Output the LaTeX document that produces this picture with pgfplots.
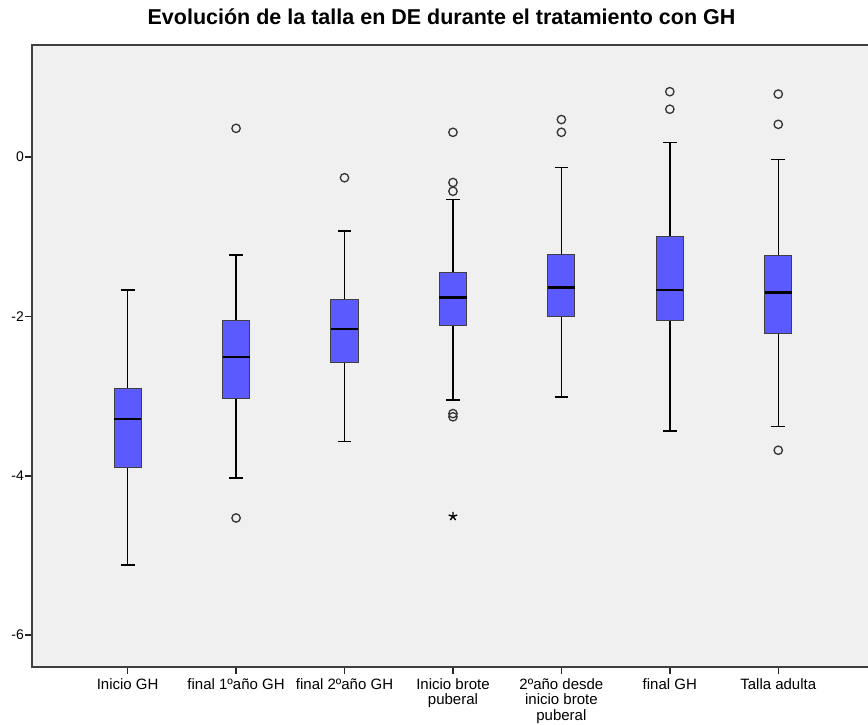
\documentclass[border=0pt]{standalone}
\usepackage{pgfplots}
\pgfplotsset{compat=1.18}
\usepgfplotslibrary{statistics}
\usepackage{fontspec}
\setmainfont{Liberation Sans}
\definecolor{boxfill}{RGB}{90,90,255}
\definecolor{bg}{RGB}{240,240,240}
\begin{document}
\begin{tikzpicture}
\path[use as bounding box] (-32pt,-58pt) rectangle (836pt,667pt);
\begin{axis}[
  at={(0,0)}, anchor=south west,
  width=838pt, height=622pt, scale only axis,
  xmin=0.118, xmax=7.846, ymin=-6.40, ymax=1.406,
  axis background/.style={fill=bg},
  axis line style={draw=black!75, line width=1.3pt},
  xtick={1,2,3,4,5,6,7},
  xticklabels={Inicio GH, final 1ºaño GH, final 2ºaño GH, {Inicio brote\\puberal}, {2ºaño desde\\inicio brote\\puberal}, final GH, Talla adulta},
  ytick={-6,-4,-2,0},
  yticklabels={-6,-4,-2,0},
  tick align=outside, xtick pos=bottom, ytick pos=left,
  major tick length=7pt,
  tick style={black!85, line width=1.5pt},
  xticklabel style={align=center, font=\fontsize{15}{15.5}\selectfont, inner sep=0pt, yshift=-4pt},
  yticklabel style={font=\fontsize{14}{16}\selectfont, inner sep=1pt},
  title={Evolución de la talla en DE durante el tratamiento con GH},
  title style={font=\bfseries\fontsize{21.5}{24}\selectfont, at={(0.4887,1)}, anchor=base, yshift=14pt, inner sep=0pt},
  boxplot/draw direction=y,
  boxplot/box extend=0.25,
  boxplot/whisker extend=0.127,
  boxplot/every box/.style={fill=boxfill, draw=black!75, line width=1pt},
  boxplot/every median/.style={black, line width=2.6pt},
  boxplot/every whisker/.style={black, line width=1.5pt},
  every axis plot/.append style={mark=o, mark size=4.2pt, mark options={draw=black!80, line width=1.3pt}},
]
\addplot[boxplot prepared={draw position=1, lower whisker=-5.12, lower quartile=-3.90, median=-3.29, upper quartile=-2.91, upper whisker=-1.67}] coordinates {};
\addplot[boxplot prepared={draw position=2, lower whisker=-4.03, lower quartile=-3.03, median=-2.51, upper quartile=-2.05, upper whisker=-1.23}] table[row sep=\\, y index=0] {y\\ 0.36\\ -4.53\\};
\addplot[boxplot prepared={draw position=3, lower whisker=-3.57, lower quartile=-2.58, median=-2.16, upper quartile=-1.79, upper whisker=-0.93}] table[row sep=\\, y index=0] {y\\ -0.26\\};
\addplot[boxplot prepared={draw position=4, lower whisker=-3.05, lower quartile=-2.12, median=-1.76, upper quartile=-1.45, upper whisker=-0.53}] table[row sep=\\, y index=0] {y\\ 0.31\\ -0.32\\ -0.43\\ -3.22\\ -3.26\\};
\addplot[boxplot prepared={draw position=5, lower whisker=-3.01, lower quartile=-2.00, median=-1.64, upper quartile=-1.22, upper whisker=-0.13}] table[row sep=\\, y index=0] {y\\ 0.47\\ 0.31\\};
\addplot[boxplot prepared={draw position=6, lower whisker=-3.44, lower quartile=-2.05, median=-1.67, upper quartile=-1.00, upper whisker=0.18}] table[row sep=\\, y index=0] {y\\ 0.82\\ 0.60\\};
\addplot[boxplot prepared={draw position=7, lower whisker=-3.38, lower quartile=-2.21, median=-1.70, upper quartile=-1.24, upper whisker=-0.03}] table[row sep=\\, y index=0] {y\\ 0.79\\ 0.41\\ -3.68\\};
\addplot[only marks, mark=star, mark size=4.5pt, mark options={draw=black, line width=1.4pt}] coordinates {(4,-4.51)};
\end{axis}
\end{tikzpicture}
\end{document}
